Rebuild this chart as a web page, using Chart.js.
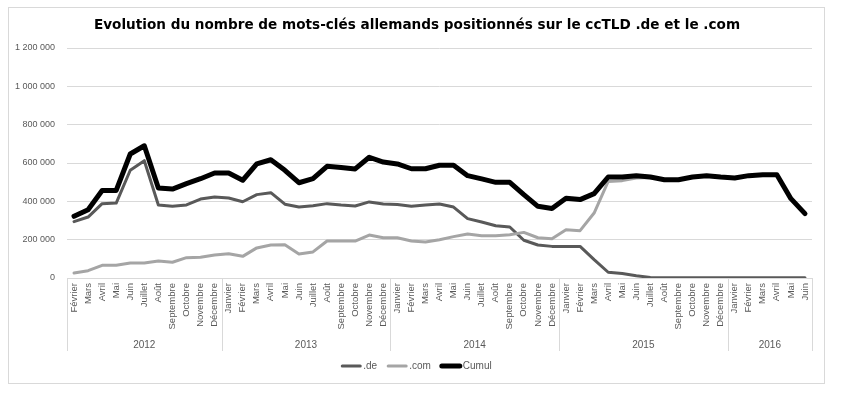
<!DOCTYPE html>
<html>
<head>
<meta charset="utf-8">
<script src="https://cdn.jsdelivr.net/npm/chart.js@4/dist/chart.umd.min.js"></script>
<style>
    html, body { margin: 0; padding: 0; background: #fff; }
    #wrap { width: 848px; height: 396px; }
</style>
</head>
<body>
<div id="wrap"><canvas id="chart"></canvas></div>
<script>
// ================= DATA =================

const chartTitle = 'Evolution du nombre de mots-clés allemands positionnés sur le ccTLD .de et le .com';
const years = ['2012', '2013', '2014', '2015', '2016'];
const yearMonthCounts = [11, 12, 12, 12, 6];
const firstMonthIndex = 1; // data starts in Février 2012
const monthNames = ['Janvier', 'Février', 'Mars', 'Avril', 'Mai', 'Juin', 'Juillet',
    'Août', 'Septembre', 'Octobre', 'Novembre', 'Décembre'];

const deValues = [
    294000, 318000, 388000, 391000, 562000, 612000, 381000, 374000, 381000, 412000, 423000,
    417000, 398000, 435000, 445000, 385000, 370000, 377000, 388000, 381000, 376000, 397000, 386000,
    384000, 374000, 381000, 386000, 370000, 310000, 292000, 273000, 266000, 197000, 172000, 165000,
    165000, 165000, 96000, 30000, 23000, 12000, 3000, 1000, 1000, 1000, 1000, 1000,
    1000, 1000, 1000, 1000, 1000, 1000
];
const comValues = [
    26000, 38000, 66000, 66000, 78000, 78000, 89000, 82000, 106000, 108000, 120000,
    127000, 113000, 157000, 172000, 173000, 125000, 136000, 193000, 193000, 193000, 224000, 210000,
    210000, 193000, 188000, 200000, 216000, 230000, 221000, 221000, 226000, 238000, 210000, 205000,
    252000, 247000, 339000, 504000, 508000, 522000, 524000, 512000, 512000, 526000, 533000, 526000,
    521000, 533000, 538000, 538000, 413000, 335000
];
const cumulValues = [
    322000, 356000, 457000, 457000, 647000, 690000, 470000, 464000, 492000, 518000, 548000,
    548000, 510000, 595000, 617000, 562000, 497000, 518000, 583000, 577000, 569000, 630000, 605000,
    595000, 570000, 570000, 588000, 588000, 534000, 517000, 499000, 499000, 435000, 374000, 363000,
    416000, 409000, 440000, 527000, 527000, 534000, 527000, 513000, 513000, 527000, 534000, 527000,
    522000, 534000, 539000, 539000, 414000, 336000
];
const yTicks = [0, 200000, 400000, 600000, 800000, 1000000, 1200000];

const labels = [];
years.forEach((y, i) => {
    const start = i === 0 ? firstMonthIndex : 0;
    for (let m = 0; m < yearMonthCounts[i]; m++) labels.push(monthNames[start + m]);
});

const TEXT = '#595959';
const GRID = '#d9d9d9';
const FONT = 'Liberation Sans, Arial, sans-serif';

function formatThousands(v) {
    return String(v).replace(/\B(?=(\d{3})+(?!\d))/g, ' ');
}

// ================= PLUGINS =================

// white card with thin border, plus the title centred on it
const frame = {
    id: 'frame',
    beforeDraw(chart) {
        const ctx = chart.ctx;
        ctx.save();
        ctx.fillStyle = '#fff';
        ctx.fillRect(0, 0, chart.width, chart.height);
        ctx.strokeStyle = GRID;
        ctx.lineWidth = 1;
        ctx.strokeRect(8.5, 7.5, 816, 376);
        ctx.fillStyle = '#000';
        ctx.font = 'bold 13.6px DejaVu Sans, sans-serif';
        ctx.textAlign = 'center';
        ctx.textBaseline = 'middle';
        ctx.fillText(chartTitle, (8 + 824) / 2 + 1, 25);
        ctx.restore();
    }
};

// year row under the month labels
const yearGroups = {
    id: 'yearGroups',
    afterDraw(chart) {
        const x = chart.scales.x;
        const ctx = chart.ctx;
        const step = x.getPixelForValue(1) - x.getPixelForValue(0);
        const top = chart.chartArea.bottom;
        ctx.save();
        ctx.strokeStyle = GRID;
        ctx.lineWidth = 1;
        ctx.fillStyle = TEXT;
        ctx.font = '10px ' + FONT;
        ctx.textAlign = 'center';
        ctx.textBaseline = 'middle';
        let idx = 0;
        years.forEach((y, i) => {
            const left = x.getPixelForValue(idx) - step / 2;
            const right = x.getPixelForValue(idx + yearMonthCounts[i] - 1) + step / 2;
            [left, right].forEach(px => {
                const p = Math.round(px) + 0.5;
                ctx.beginPath();
                ctx.moveTo(p, top);
                ctx.lineTo(p, top + 73);
                ctx.stroke();
            });
            ctx.fillText(y, (left + right) / 2, top + 67);
            idx += yearMonthCounts[i];
        });
        ctx.restore();
    }
};

const bottomLegend = {
    id: 'bottomLegend',
    afterDraw(chart) {
        const ctx = chart.ctx;
        const y = 366;
        const lineLen = 22;
        const gap = 9;
        ctx.save();
        ctx.font = '10px ' + FONT;
        ctx.textBaseline = 'middle';
        const items = chart.data.datasets.map(ds => ({
            ds, w: lineLen + 1 + ctx.measureText(ds.label).width
        }));
        const total = items.reduce((a, it) => a + it.w, 0) + gap * (items.length - 1);
        let cx = (8 + 824) / 2 - total / 2;
        items.forEach(it => {
            ctx.strokeStyle = it.ds.borderColor;
            ctx.lineWidth = it.ds.borderWidth;
            ctx.lineCap = 'round';
            ctx.beginPath();
            ctx.moveTo(cx + 2, y);
            ctx.lineTo(cx + lineLen - 2, y);
            ctx.stroke();
            ctx.fillStyle = TEXT;
            ctx.fillText(it.ds.label, cx + lineLen + 1, y);
            cx += it.w + gap;
        });
        ctx.restore();
    }
};

// ================= CHART =================

new Chart(document.getElementById('chart'), {
    type: 'line',
    data: {
        labels: labels,
        datasets: [
            { label: '.de', data: deValues, borderColor: '#595959', borderWidth: 3, order: 2 },
            { label: '.com', data: comValues, borderColor: '#a5a5a5', borderWidth: 3, order: 1 },
            { label: 'Cumul', data: cumulValues, borderColor: '#000000', borderWidth: 5, order: 0 }
        ]
    },
    options: {
        responsive: true,
        maintainAspectRatio: false,
        animation: false,
        elements: {
            point: { radius: 0 },
            line: { tension: 0, borderJoinStyle: 'round', borderCapStyle: 'round', fill: false }
        },
        layout: { padding: { left: 8, right: 36, top: 48, bottom: 0 } },
        plugins: {
            legend: { display: false },
            tooltip: { enabled: false },
            title: { display: false }
        },
        scales: {
            x: {
                offset: true,
                grid: { display: false, drawTicks: false },
                border: { display: true, color: GRID, width: 1 },
                ticks: {
                    autoSkip: false,
                    maxRotation: 90,
                    minRotation: 90,
                    padding: 5,
                    color: TEXT,
                    font: { family: FONT, size: 9.5 }
                },
                afterFit(scale) { scale.height = 118; }
            },
            y: {
                min: 0,
                max: 1200000,
                afterBuildTicks(scale) { scale.ticks = yTicks.map(v => ({ value: v })); },
                grid: { color: GRID, drawTicks: false },
                border: { display: false },
                ticks: {
                    padding: 12,
                    color: TEXT,
                    font: { family: FONT, size: 9 },
                    callback: v => formatThousands(v)
                },
                afterFit(scale) { scale.width = 59; }
            }
        }
    },
    plugins: [frame, yearGroups, bottomLegend]
});
</script>
</body>
</html>
